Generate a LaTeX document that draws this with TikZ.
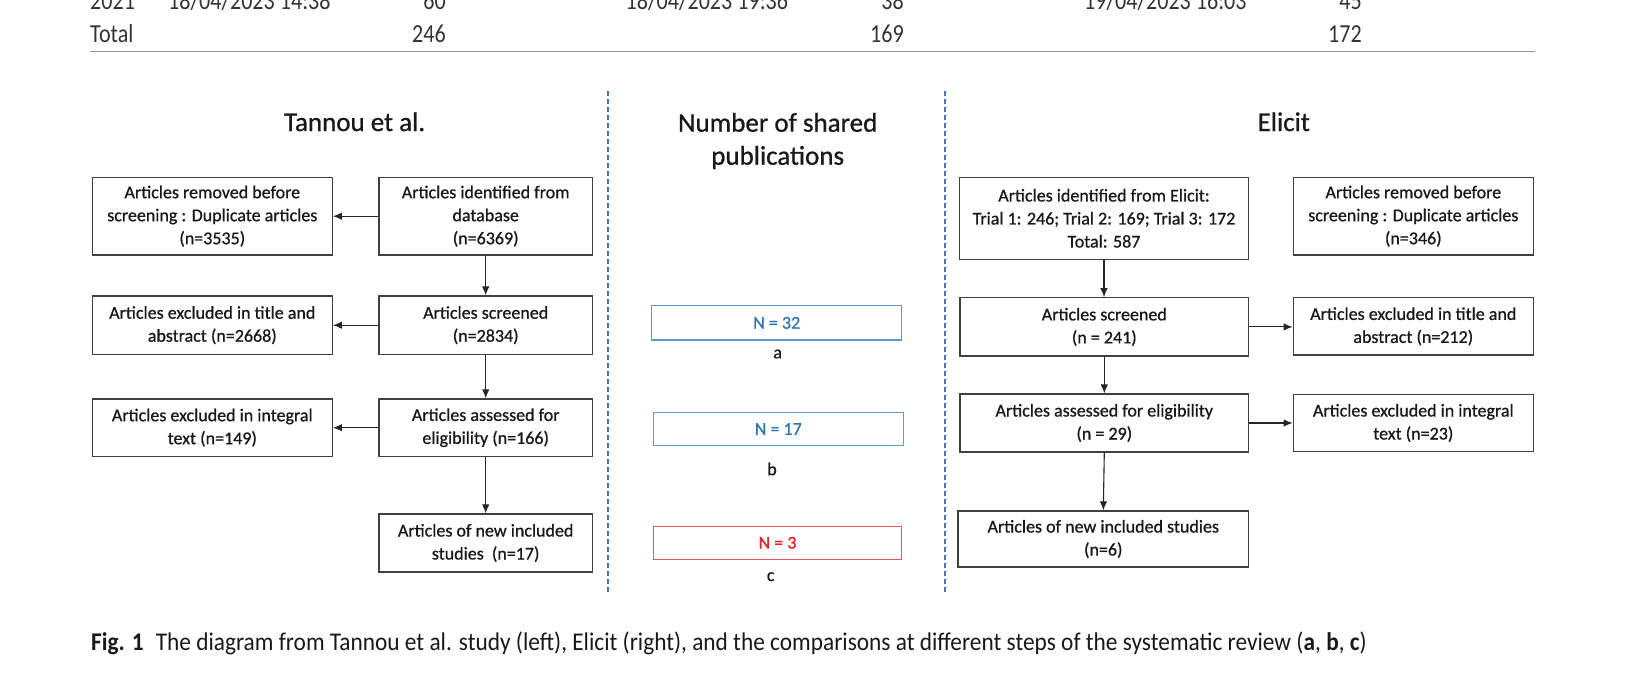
\documentclass[tikz,border=0pt]{standalone}
\usepackage{fontspec}
\setmainfont{Carlito}
\newfontfamily\tabfont[FakeStretch=0.85]{Carlito}
\newfontfamily\boxfont[FakeBold=0.8]{Carlito}
\newfontfamily\capfont[FakeStretch=0.915]{Carlito}
\usetikzlibrary{arrows.meta}
\definecolor{sepblue}{RGB}{68,114,196}
\definecolor{mblueline}{RGB}{91,155,213}
\definecolor{mbluetext}{RGB}{46,117,182}
\definecolor{mredline}{RGB}{240,85,85}
\definecolor{mredtext}{RGB}{235,30,35}
\definecolor{boxline}{RGB}{64,64,64}
\definecolor{ruleg}{RGB}{150,150,150}
\tikzset{
  flowbox/.style={draw=boxline, line width=1.3pt, inner sep=0pt, align=center,
    font=\boxfont\fontsize{18}{23}\selectfont, text=black!90},
  midbox/.style={line width=1.4pt, inner sep=0pt, align=center,
    font=\boxfont\fontsize{18}{23}\selectfont},
  lbl/.style={inner sep=0pt, font=\boxfont\fontsize{18}{23}\selectfont, text=black!90},
  ttl/.style={inner sep=0pt, align=center, font=\boxfont\fontsize{27}{33}\selectfont, text=black!90},
  arr/.style={-{Latex[length=9pt,width=7.5pt]}, line width=1.1pt, black!85},
  sepline/.style={sepblue, line width=2.2pt, dash pattern=on 5pt off 3pt},
  tabtxt/.style={inner sep=0pt, font=\tabfont\fontsize{26}{30}\selectfont, text=black!80},
  captxt/.style={inner sep=0pt, font=\capfont\fontsize{25.5}{30}\selectfont, text=black!90}
}
\begin{document}
\begin{tikzpicture}[x=1pt,y=-1pt]
\clip (0,0) rectangle (1626,685);
\fill[white] (0,0) rectangle (1626,685);

% ---- table fragment ----
\node[tabtxt, anchor=base west] (r1a) at (90,9.3) {2021};
\node[tabtxt, anchor=base west] (r1b) at (168,9.3) {18/04/2023 14:38};
\node[tabtxt, anchor=base east] (r1c) at (446,9.3) {60};
\node[tabtxt, anchor=base west] (r1d) at (625.5,9.3) {18/04/2023 19:36};
\node[tabtxt, anchor=base east] (r1e) at (904,9.3) {38};
\node[tabtxt, anchor=base west] (r1f) at (1084,9.3) {19/04/2023 16:03};
\node[tabtxt, anchor=base east] (r1g) at (1362,9.3) {45};
\node[tabtxt, anchor=base west] (r2a) at (90,42.7) {Total};
\node[tabtxt, anchor=base east] (r2b) at (446,42.7) {246};
\node[tabtxt, anchor=base east] (r2c) at (904,42.7) {169};
\node[tabtxt, anchor=base east] (r2d) at (1362,42.7) {172};
\coordinate (ruleL) at (90,51.7);
\coordinate (ruleR) at (1535,51.7);
\draw[ruleg, line width=1.5pt] (ruleL) -- (ruleR);

% ---- titles ----
\node[ttl, anchor=base] (tt) at (354.6,131) {Tannou et al.};
\node[ttl] (tm) at (777.7,141) {Number of shared\\publications};
\node[ttl, anchor=base] (te) at (1283.8,131) {Elicit};

% ---- separators ----
\coordinate (s1a) at (608.3,91);
\coordinate (s1b) at (608.3,594);
\coordinate (s2a) at (945,91);
\coordinate (s2b) at (945,594);
\draw[sepline] (s1a) -- (s1b);
\draw[sepline] (s2a) -- (s2b);

% ---- Tannou column ----
\node[flowbox, minimum width=240pt, minimum height=77.7pt] (L1) at (212.3,216.2)
  {Articles removed before\\screening : Duplicate articles\\(n=3535)};
\node[flowbox, minimum width=213.3pt, minimum height=77.7pt] (T1) at (485.7,216.2)
  {Articles identified from\\database\\(n=6369)};
\node[flowbox, minimum width=240pt, minimum height=58.3pt] (L2) at (212.3,325.2)
  {Articles excluded in title and\\abstract (n=2668)};
\node[flowbox, minimum width=213.3pt, minimum height=58.3pt] (T2) at (485.7,325.2)
  {Articles screened\\(n=2834)};
\node[flowbox, minimum width=240pt, minimum height=57.5pt] (L3) at (212.3,427.7)
  {Articles excluded in integral\\text (n=149)};
\node[flowbox, minimum width=213.3pt, minimum height=57.5pt] (T3) at (485.7,427.7)
  {Articles assessed for\\eligibility (n=166)};
\node[flowbox, minimum width=213.3pt, minimum height=58pt] (T4) at (485.7,543)
  {Articles of new included\\studies\ \ (n=17)};

\draw[arr] (T1.west) -- (L1.east);
\draw[arr] (T2.west) -- (L2.east);
\draw[arr] (T3.west) -- (L3.east);
\draw[arr] (T1.south) -- (T2.north);
\draw[arr] (T2.south) -- (T3.north);
\draw[arr] (T3.south) -- (T4.north);

% ---- middle column ----
\node[midbox, draw=mblueline, text=mbluetext, minimum width=250pt, minimum height=34.3pt] (M1) at (776.7,322.9) {N = 32};
\node[lbl] (la) at (777.7,354) {a};
\node[midbox, draw=mblueline, text=mbluetext, minimum width=250pt, minimum height=33.4pt] (M2) at (778.3,429) {N = 17};
\node[lbl] (lb) at (772,469) {b};
\node[midbox, draw=mredline, text=mredtext, minimum width=248.4pt, minimum height=33pt] (M3) at (777.5,542.8) {N = 3};
\node[lbl] (lc) at (770.7,576.7) {c};

% ---- Elicit column ----
\node[flowbox, minimum width=289.4pt, minimum height=82pt] (E1) at (1104,218.3)
  {Articles identified from Elicit:\\Trial 1: 246; Trial 2: 169; Trial 3: 172\\Total: 587};
\node[flowbox, minimum width=240pt, minimum height=77.7pt] (R1) at (1413.3,216.2)
  {Articles removed before\\screening : Duplicate articles\\(n=346)};
\node[flowbox, minimum width=288.7pt, minimum height=58.3pt] (E2) at (1104.3,326.9)
  {Articles screened\\(n = 241)};
\node[flowbox, minimum width=240pt, minimum height=57.3pt] (R2) at (1413.3,326.4)
  {Articles excluded in title and\\abstract (n=212)};
\node[flowbox, minimum width=288.5pt, minimum height=58pt] (E3) at (1104.3,423)
  {Articles assessed for eligibility\\(n = 29)};
\node[flowbox, minimum width=240pt, minimum height=57.4pt] (R3) at (1413.3,423)
  {Articles excluded in integral\\text (n=23)};
\node[flowbox, minimum width=290.5pt, minimum height=56pt] (E4) at (1103.3,539)
  {Articles of new included studies\\(n=6)};

\draw[arr] (E1.south) -- (E1.south |- E2.north);
\draw[arr] (E2.south) -- (E2.south |- E3.north);
\draw[arr] (E3.south) -- (E4.north);
\draw[arr] (E2.east) -- (E2.east -| R2.west);
\draw[arr] (E3.east) -- (E3.east -| R3.west);

% ---- caption ----
\node[captxt, anchor=base west] (cap) at (91,650)
  {\textbf{Fig. 1}\hspace{12pt}The diagram from Tannou et al. study (left), Elicit (right), and the comparisons at different steps of the systematic review (\textbf{a}, \textbf{b}, \textbf{c})};
\end{tikzpicture}
\end{document}
